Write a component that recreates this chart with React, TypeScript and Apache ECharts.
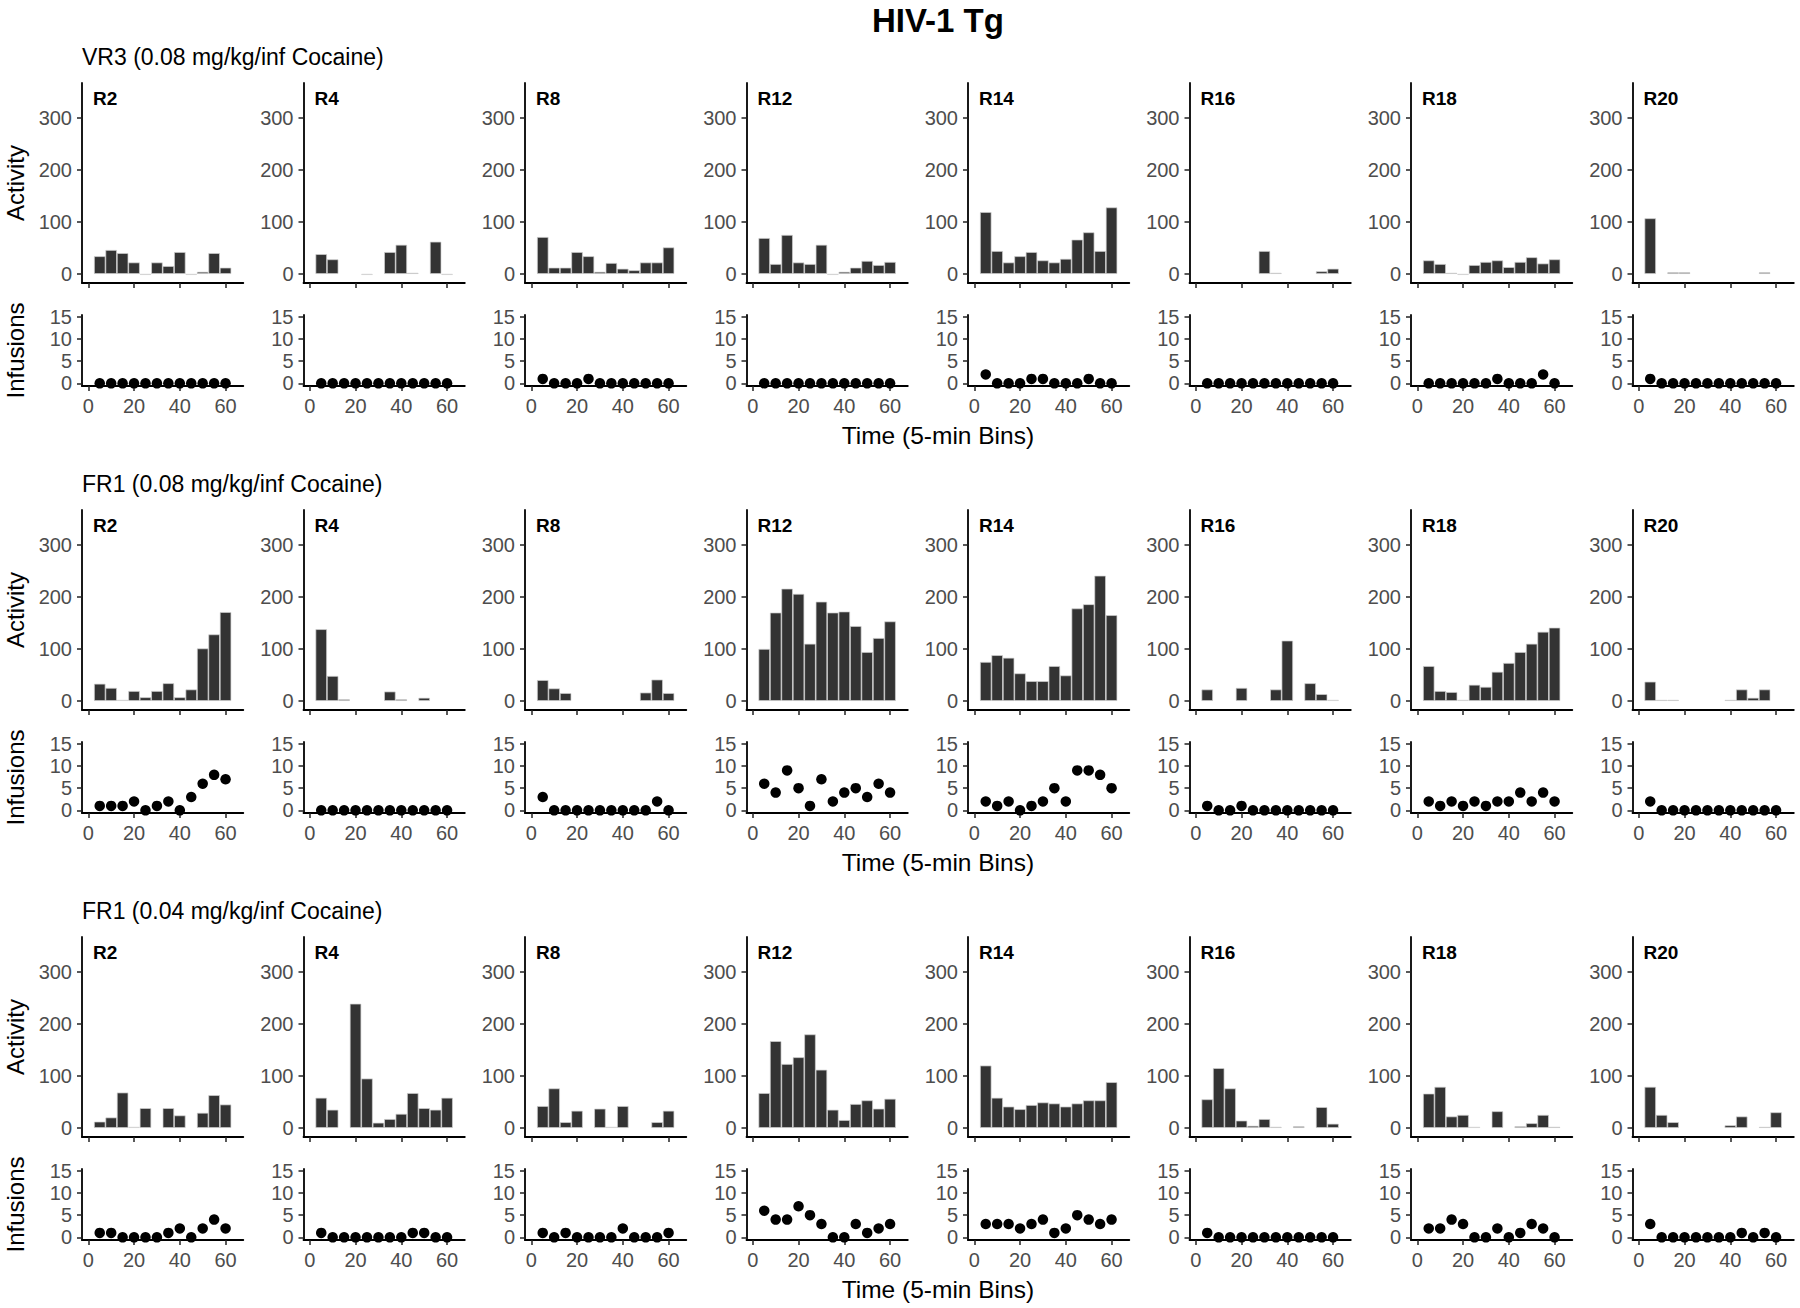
import React, { useEffect, useRef } from 'react';
import * as echarts from 'echarts';

// ---------- DATA ----------
const bins = [5, 10, 15, 20, 25, 30, 35, 40, 45, 50, 55, 60];
const rats = ['R2', 'R4', 'R8', 'R12', 'R14', 'R16', 'R18', 'R20'];
const mainTitle = 'HIV-1 Tg';
const sectionTitles = [
  'VR3 (0.08 mg/kg/inf Cocaine)',
  'FR1 (0.08 mg/kg/inf Cocaine)',
  'FR1 (0.04 mg/kg/inf Cocaine)',
];
const xAxisTitle = 'Time (5-min Bins)';
const activityTicks = [0, 100, 200, 300];
const infusionTicks = [0, 5, 10, 15];
const timeTicks = [0, 20, 40, 60];

// Activity per rat (R2..R20), 12 bins; null = no bar
const vr3Activity = [
  [34, 46, 40, 22, 0, 22, 15, 42, 0, 4, 40, 12],
  [38, 28, null, null, 0, null, 42, 56, 2, null, 62, 0],
  [71, 12, 12, 42, 34, 4, 21, 10, 7, 22, 22, 51],
  [69, 19, 75, 22, 19, 56, 0, 4, 12, 25, 17, 23],
  [119, 44, 22, 34, 42, 26, 22, 29, 66, 80, 44, 128],
  [null, null, null, null, null, 44, 2, null, null, null, 5, 10],
  [26, 19, 2, 0, 17, 23, 26, 13, 23, 32, 20, 28],
  [107, null, 3, 3, null, null, null, null, null, null, 3, null],
];
const vr3Infusions = [
  [0, 0, 0, 0, 0, 0, 0, 0, 0, 0, 0, 0],
  [0, 0, 0, 0, 0, 0, 0, 0, 0, 0, 0, 0],
  [1, 0, 0, 0, 1, 0, 0, 0, 0, 0, 0, 0],
  [0, 0, 0, 0, 0, 0, 0, 0, 0, 0, 0, 0],
  [2, 0, 0, 0, 1, 1, 0, 0, 0, 1, 0, 0],
  [0, 0, 0, 0, 0, 0, 0, 0, 0, 0, 0, 0],
  [0, 0, 0, 0, 0, 0, 1, 0, 0, 0, 2, 0],
  [1, 0, 0, 0, 0, 0, 0, 0, 0, 0, 0, 0],
];

const fr1HighActivity = [
  [33, 25, 0, 19, 7, 19, 34, 7, 22, 101, 128, 171],
  [138, 48, 3, null, null, null, 18, 3, null, 6, null, null],
  [40, 24, 15, null, null, null, null, null, null, 16, 41, 15],
  [100, 170, 216, 206, 110, 191, 170, 172, 144, 94, 121, 153],
  [75, 88, 83, 53, 38, 38, 67, 49, 178, 186, 241, 165],
  [22, null, null, 25, null, null, 22, 116, null, 34, 13, 0],
  [67, 19, 17, 0, 31, 27, 56, 73, 94, 110, 133, 141],
  [37, 1, 1, null, null, null, null, 1, 22, 6, 22, null],
];
const fr1HighInfusions = [
  [1, 1, 1, 2, 0, 1, 2, 0, 3, 6, 8, 7],
  [0, 0, 0, 0, 0, 0, 0, 0, 0, 0, 0, 0],
  [3, 0, 0, 0, 0, 0, 0, 0, 0, 0, 2, 0],
  [6, 4, 9, 5, 1, 7, 2, 4, 5, 3, 6, 4],
  [2, 1, 2, 0, 1, 2, 5, 2, 9, 9, 8, 5],
  [1, 0, 0, 1, 0, 0, 0, 0, 0, 0, 0, 0],
  [2, 1, 2, 1, 2, 1, 2, 2, 4, 2, 4, 2],
  [2, 0, 0, 0, 0, 0, 0, 0, 0, 0, 0, 0],
];

const fr1LowActivity = [
  [12, 20, 68, 0, 38, null, 38, 24, null, 29, 63, 45],
  [58, 35, null, 239, 95, 10, 17, 27, 67, 38, 35, 58],
  [42, 76, 11, 33, null, 37, 0, 42, null, null, 11, 33],
  [67, 167, 123, 136, 180, 112, 35, 15, 46, 53, 37, 56],
  [120, 58, 41, 36, 44, 49, 47, 41, 47, 53, 53, 88],
  [55, 115, 76, 14, 4, 17, 2, null, 3, null, 40, 8],
  [66, 79, 22, 25, 0, null, 32, null, 3, 9, 25, 2],
  [79, 25, 11, null, null, null, null, 5, 22, null, 1, 30],
];
const fr1LowInfusions = [
  [1, 1, 0, 0, 0, 0, 1, 2, 0, 2, 4, 2],
  [1, 0, 0, 0, 0, 0, 0, 0, 1, 1, 0, 0],
  [1, 0, 1, 0, 0, 0, 0, 2, 0, 0, 0, 1],
  [6, 4, 4, 7, 5, 3, 0, 0, 3, 1, 2, 3],
  [3, 3, 3, 2, 3, 4, 1, 2, 5, 4, 3, 4],
  [1, 0, 0, 0, 0, 0, 0, 0, 0, 0, 0, 0],
  [2, 2, 4, 3, 0, 0, 2, 0, 1, 3, 2, 0],
  [3, 0, 0, 0, 0, 0, 0, 0, 1, 0, 1, 0],
];

const sectionActivity = [vr3Activity, fr1HighActivity, fr1LowActivity];
const sectionInfusions = [vr3Infusions, fr1HighInfusions, fr1LowInfusions];

// ---------- LAYOUT / STYLE ----------
const FONT = "'Liberation Sans', Arial, Helvetica, sans-serif";
const COL_LEFT = 82;
const COL_STEP = 221.5;
const PANEL_W = 161.3;
const ACT_TOP = 83;
const ACT_H = 200;
const INF_TOP = 315;
const INF_H = 71;
const SEC_STEP = 427;
const X_MIN = -2.75;
const X_MAX = 67.75;
const ACT_MIN = -17.5;
const ACT_MAX = 367.5;
const INF_MIN = -0.6;
const INF_MAX = 15.4;
const BIN_WIDTH = 5;

const axisLineStyle = { color: '#000', width: 1.8 };
const tickStyle = { color: '#222', width: 1.5 };
const labelStyle = { color: '#4d4d4d', fontSize: 20, fontFamily: FONT };

function buildOption() {
  const grid: any[] = [];
  const xAxis: any[] = [];
  const yAxis: any[] = [];
  const series: any[] = [];
  const graphic: any[] = [];
  const pxPerUnit = PANEL_W / (X_MAX - X_MIN);

  graphic.push({
    type: 'text',
    x: COL_LEFT + (7 * COL_STEP + PANEL_W) / 2,
    y: 20,
    style: { text: mainTitle, fontSize: 33, fontWeight: 'bold', fontFamily: FONT, fill: '#000', textAlign: 'center', textVerticalAlign: 'middle' },
  });

  for (let s = 0; s < 3; s++) {
    const actTop = ACT_TOP + s * SEC_STEP;
    const infTop = INF_TOP + s * SEC_STEP;
    graphic.push({
      type: 'text', x: COL_LEFT, y: actTop - 26,
      style: { text: sectionTitles[s], fontSize: 23, fontFamily: FONT, fill: '#000', textAlign: 'left', textVerticalAlign: 'middle' },
    });
    graphic.push({
      type: 'text', x: COL_LEFT + (7 * COL_STEP + PANEL_W) / 2, y: infTop + INF_H + 49,
      style: { text: xAxisTitle, fontSize: 24.5, fontFamily: FONT, fill: '#000', textAlign: 'center', textVerticalAlign: 'middle' },
    });
    graphic.push({
      type: 'text', x: 15, y: actTop + ACT_H / 2, rotation: Math.PI / 2,
      style: { text: 'Activity', fontSize: 24, fontFamily: FONT, fill: '#000', textAlign: 'center', textVerticalAlign: 'middle' },
    });
    graphic.push({
      type: 'text', x: 15, y: infTop + INF_H / 2, rotation: Math.PI / 2,
      style: { text: 'Infusions', fontSize: 24, fontFamily: FONT, fill: '#000', textAlign: 'center', textVerticalAlign: 'middle' },
    });

    for (let c = 0; c < rats.length; c++) {
      const left = COL_LEFT + c * COL_STEP;
      graphic.push({
        type: 'text', x: left + 11, y: actTop + 15,
        style: { text: rats[c], fontSize: 19, fontWeight: 'bold', fontFamily: FONT, fill: '#000', textAlign: 'left', textVerticalAlign: 'middle' },
      });

      // Activity panel
      const ga = grid.length;
      grid.push({ left, top: actTop, width: PANEL_W, height: ACT_H });
      xAxis.push({
        gridIndex: ga, type: 'value', min: X_MIN, max: X_MAX,
        axisLine: { show: true, onZero: false, lineStyle: axisLineStyle },
        axisTick: { show: true, customValues: timeTicks, length: 5, lineStyle: tickStyle },
        axisLabel: { show: false, customValues: timeTicks },
        splitLine: { show: false },
      });
      yAxis.push({
        gridIndex: ga, type: 'value', min: ACT_MIN, max: ACT_MAX,
        axisLine: { show: true, onZero: false, lineStyle: axisLineStyle },
        axisTick: { show: true, customValues: activityTicks, length: 5, lineStyle: tickStyle },
        axisLabel: { show: true, customValues: activityTicks, margin: 10, ...labelStyle },
        splitLine: { show: false },
      });
      const act = sectionActivity[s][c];
      const barData: any[] = [];
      bins.forEach((b, i) => {
        const v = act[i];
        if (v === null || v === undefined) return;
        if (v === 0) barData.push({ value: [b, 0], itemStyle: { color: '#c8c8c8' } });
        else barData.push({ value: [b, v] });
      });
      series.push({
        type: 'bar', xAxisIndex: ga, yAxisIndex: ga, data: barData,
        barWidth: BIN_WIDTH * pxPerUnit, barMinHeight: 1,
        itemStyle: { color: '#333333', borderColor: '#d0d0d0', borderWidth: 0.7 },
        silent: true,
      });

      // Infusions panel
      const gi = grid.length;
      grid.push({ left, top: infTop, width: PANEL_W, height: INF_H });
      xAxis.push({
        gridIndex: gi, type: 'value', min: X_MIN, max: X_MAX,
        axisLine: { show: true, onZero: false, lineStyle: axisLineStyle },
        axisTick: { show: true, customValues: timeTicks, length: 5, lineStyle: tickStyle },
        axisLabel: { show: true, customValues: timeTicks, margin: 10, ...labelStyle },
        splitLine: { show: false },
      });
      yAxis.push({
        gridIndex: gi, type: 'value', min: INF_MIN, max: INF_MAX,
        axisLine: { show: true, onZero: false, lineStyle: axisLineStyle },
        axisTick: { show: true, customValues: infusionTicks, length: 5, lineStyle: tickStyle },
        axisLabel: { show: true, customValues: infusionTicks, margin: 10, ...labelStyle },
        splitLine: { show: false },
      });
      const inf = sectionInfusions[s][c];
      series.push({
        type: 'scatter', xAxisIndex: gi, yAxisIndex: gi,
        data: bins.map((b, i) => [b, inf[i]]),
        symbol: 'circle', symbolSize: 10.5, clip: false,
        itemStyle: { color: '#000', opacity: 1 },
        silent: true,
      });
    }
  }

  return {
    animation: false,
    backgroundColor: '#ffffff',
    grid, xAxis, yAxis, series, graphic,
  };
}

export default function App() {
  const ref = useRef<HTMLDivElement>(null);
  useEffect(() => {
    if (!ref.current) return;
    const chart = echarts.init(ref.current, null, { renderer: 'svg' });
    chart.setOption(buildOption());
    return () => chart.dispose();
  }, []);
  return (
    <div
      ref={ref}
      style={{ position: 'fixed', left: 0, top: 0, width: 1800, height: 1308, background: '#fff' }}
    />
  );
}
